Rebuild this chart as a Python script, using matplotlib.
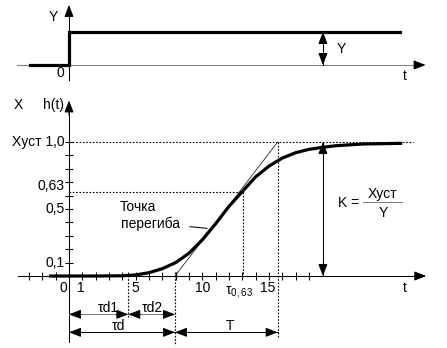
import numpy as np
import matplotlib.pyplot as plt

plt.rcParams['font.family'] = ['Liberation Sans', 'DejaVu Sans']
plt.rcParams['font.size'] = 10

## Input step (top panel)
step_t = [-2.93, 0, 0, 24.8]
step_y = [0, 0, 1, 1]

## Response h(t) (bottom panel)
curve_t = [-1.5, 0, 2, 4, 5, 6, 7, 8, 9, 10, 11, 12, 13, 14, 15, 16, 17, 18, 19, 20, 22, 25]
curve_h = [0, 0, 0, 0.002, 0.008, 0.025, 0.055, 0.1, 0.17, 0.27, 0.39, 0.52, 0.63, 0.74,
           0.82, 0.88, 0.92, 0.945, 0.96, 0.972, 0.985, 0.99]

## Characteristic times
tau_d1 = 4.45
tau_d = 7.95
t_end = 15.65     # tau_d + T
tau_063 = 13.08
t_k = 19.05       # position of the K arrow

## Ticks
x_ticks = [t for t in range(-3, 19) if t != 0]
y_ticks = [0.1, 0.2, 0.3, 0.4, 0.5, 0.6, 0.7, 0.8, 0.9, 1.0]
y_labels = {1.0: 'Xуст 1,0', 0.63: '0,63', 0.5: '0,5', 0.1: '0,1'}
x_labels = {-0.45: '0', 0.9: '1', 4.95: '5', 10: '10', 14.9: '15'}

HEAD = '-|>,head_length=0.9,head_width=0.35'


def head(ax, tip, frm):
    ax.annotate('', xy=tip, xytext=frm,
                arrowprops=dict(arrowstyle=HEAD, color='k', lw=0.75,
                                shrinkA=0, shrinkB=0, mutation_scale=8))


def hdouble(ax, x0, x1, y, color='k'):
    ax.plot([x0, x1], [y, y], color=color, lw=0.75)
    head(ax, (x0, y), (x0 + 0.9, y))
    head(ax, (x1, y), (x1 - 0.9, y))


def vdouble(ax, x, y0, y1, d):
    ax.plot([x, x], [y0, y1], color='k', lw=0.75)
    head(ax, (x, y0), (x, y0 + d))
    head(ax, (x, y1), (x, y1 - d))


fig = plt.figure(figsize=(4.47, 3.48), dpi=100)
xlim = (-5.176, 28.357)

# ---- top panel: input step
ax1 = fig.add_axes([0, 1 - 90 / 348, 1, 90 / 348])
ax1.set_xlim(xlim)
ax1.set_ylim(-0.758, 1.970)
ax1.axis('off')

ax1.plot([-3.9, 26.0], [0, 0], color='#808080', lw=0.75)
head(ax1, (26.75, 0), (25.9, 0))
ax1.plot([0, 0], [-0.455, 1.6], color='k', lw=0.75)
head(ax1, (0, 1.82), (0, 1.5))
ax1.plot(step_t, step_y, color='k', lw=2.3, solid_joinstyle='miter')
vdouble(ax1, t_k, 0, 1, 0.3)

ax1.text(-1.2, 1.45, 'Y', ha='center', va='center')
ax1.text(-0.68, -0.24, '0', ha='center', va='center')
ax1.text(25.2, -0.33, 't', ha='center', va='center')
ax1.text(20.4, 0.48, 'Y', ha='center', va='center')

# ---- bottom panel: response
ax2 = fig.add_axes([0, 0, 1, 258 / 348])
ax2.set_xlim(xlim)
ax2.set_ylim(-0.537, 1.388)
ax2.axis('off')

# axes with arrows
ax2.plot([-3.83, 26.0], [0, 0], color='k', lw=0.75)
head(ax2, (26.8, 0), (25.9, 0))
ax2.plot([0, 0], [-0.49, 1.25], color='k', lw=0.75)
head(ax2, (0, 1.31), (0, 1.2))

ax2.plot(x_ticks, [0] * len(x_ticks), ls='none', marker='|', color='k', ms=6, mew=0.75)
ax2.plot([0] * len(y_ticks), y_ticks, ls='none', marker='_', color='k', ms=6, mew=0.75)

# dotted guide lines
dot = dict(color='k', lw=0.8, ls=(0, (1.5, 1.5)))
ax2.plot([0, 25.8], [1.0, 1.0], **dot)
ax2.plot([0, tau_063], [0.63, 0.63], **dot)
ax2.plot([tau_063, tau_063], [0.63, 0], **dot)
ax2.plot([t_end, t_end], [1.0, -0.463], **dot)
ax2.plot([tau_d1, tau_d1], [0.03, -0.31], **dot)
ax2.plot([tau_d, tau_d], [0.03, -0.515], **dot)

# tangent at the inflection point
ax2.plot([tau_d, t_end], [0, 1.0], color='k', lw=0.5)

# response curve
ax2.plot(curve_t, curve_h, color='k', lw=2.3, solid_capstyle='butt')

# K arrow
vdouble(ax2, t_k, 0, 1.0, 0.09)

# time intervals
hdouble(ax2, 0, tau_d1, -0.286, color='#808080')
hdouble(ax2, tau_d1, tau_d, -0.286, color='#808080')
hdouble(ax2, 0, tau_d, -0.42)
hdouble(ax2, tau_d, t_end, -0.42)

# labels
for v, s in y_labels.items():
    yy = v + 0.04 if v == 0.63 else v
    ax2.text(-0.35, yy, s, ha='right', va='center')
for v, s in x_labels.items():
    ax2.text(v, -0.09, s, ha='center', va='center')
ax2.text(tau_063 - 0.35, -0.12, r'τ$_{\mathregular{0,63}}$', ha='center', va='center')
ax2.text(25.2, -0.09, 't', ha='center', va='center')
ax2.text(-3.8, 1.276, 'X', ha='center', va='center')
ax2.text(-1.2, 1.276, 'h(t)', ha='center', va='center')

ax2.text(5.18, 0.515, 'Точка', ha='center', va='center')
ax2.text(6.08, 0.388, 'перегиба', ha='center', va='center')
ax2.plot([9.08, 10.35], [0.368, 0.356], color='k', lw=0.75)

ax2.text(21.0, 0.545, 'K =', ha='center', va='center')
ax2.plot([22.06, 24.98], [0.552, 0.552], color='#808080', lw=0.75)
ax2.text(23.55, 0.61, 'Xуст', ha='center', va='center')
ax2.text(23.55, 0.47, 'Y', ha='center', va='center')

ax2.text(2.93, -0.24, 'τd1', ha='center', va='center')
ax2.text(6.23, -0.24, 'τd2', ha='center', va='center')
ax2.text(3.68, -0.373, 'τd', ha='center', va='center')
ax2.text(12.08, -0.373, 'T', ha='center', va='center')

fig.savefig('out.png', dpi=100)
